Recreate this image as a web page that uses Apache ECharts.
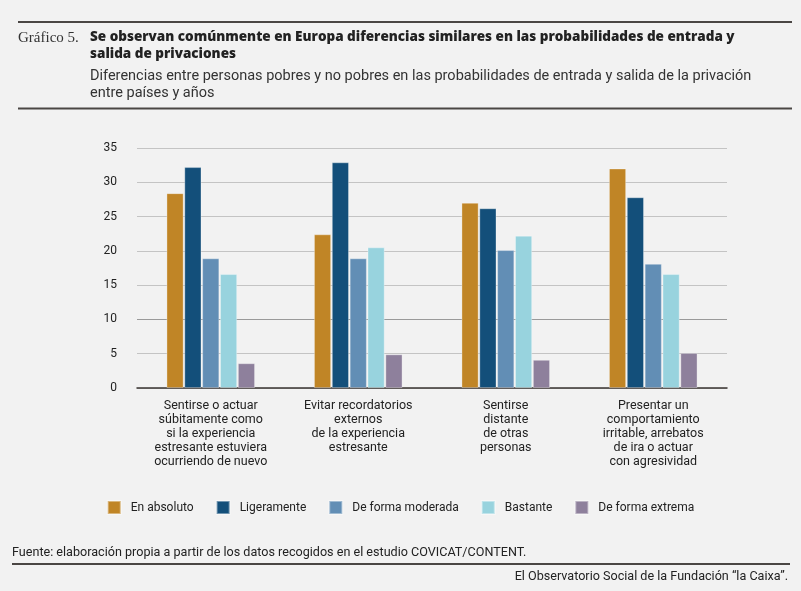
<!DOCTYPE html>
<html>
<head>
<meta charset="utf-8">
<script src="https://cdn.jsdelivr.net/npm/echarts@6/dist/echarts.min.js"></script>
<style>
  html, body { margin: 0; padding: 0; background: #f2f2f2; }
  #main { width: 801px; height: 591px; }
</style>
</head>
<body>
<div id="main"></div>
<script type="text/javascript">
    // datos
    var categorias = [
        'Sentirse o actuar\nsúbitamente como\nsi la experiencia\nestresante estuviera\nocurriendo de nuevo',
        'Evitar recordatorios\nexternos\nde la experiencia\nestresante',
        'Sentirse\ndistante\nde otras\npersonas',
        'Presentar un\ncomportamiento\nirritable, arrebatos\nde ira o actuar\ncon agresividad'
    ];
    var nombresSeries = ['En absoluto', 'Ligeramente', 'De forma moderada', 'Bastante', 'De forma extrema'];
    var enAbsoluto = [28.4, 22.4, 27.0, 32.0];
    var ligeramente = [32.2, 32.9, 26.2, 27.8];
    var moderada = [18.9, 18.9, 20.1, 18.1];
    var bastante = [16.6, 20.5, 22.2, 16.6];
    var extrema = [3.6, 4.9, 4.1, 5.1];
    var colores = ['#c08526', '#134f7a', '#628eb5', '#98d3de', '#8e809c'];
    var coloresLeyenda = ['#c08526', '#134f7a', '#628eb5', '#98d3de', '#6f6e8e'];

    var valores = [enAbsoluto, ligeramente, moderada, bastante, extrema];
    var fuente = 'Roboto, "Noto Sans", sans-serif';

    var myChart = echarts.init(document.getElementById('main'));

    var series = [];
    for (var i = 0; i < nombresSeries.length; i++) {
        series.push({
            name: nombresSeries[i],
            type: 'bar',
            barWidth: 17,
            barGap: '5%',
            itemStyle: {
                color: colores[i],
                borderColor: 'rgba(255,255,255,0.4)',
                borderWidth: 0.8
            },
            data: valores[i]
        });
    }

    var option = {
        animation: false,
        backgroundColor: '#f2f2f2',
        color: coloresLeyenda,
        title: [
            {
                text: 'Gráfico 5.',
                left: 18, top: 29, padding: 0,
                textStyle: { fontFamily: '"Liberation Serif", serif', fontSize: 15, fontWeight: 'normal', color: '#333', lineHeight: 18 }
            },
            {
                text: 'Se observan comúnmente en Europa diferencias similares en las probabilidades de entrada y\nsalida de privaciones',
                left: 90, top: 29, padding: 0,
                textStyle: { fontFamily: '"Open Sans", sans-serif', fontSize: 13.5, fontWeight: 800, color: '#222', lineHeight: 17 }
            },
            {
                text: 'Diferencias entre personas pobres y no pobres en las probabilidades de entrada y salida de la privación\nentre países y años',
                left: 90, top: 67.5, padding: 0,
                textStyle: { fontFamily: fuente, fontSize: 14.5, fontWeight: 'normal', color: '#333', lineHeight: 17 }
            },
            {
                text: 'Fuente: elaboración propia a partir de los datos recogidos en el estudio COVICAT/CONTENT.',
                left: 12, top: 545, padding: 0,
                textStyle: { fontFamily: fuente, fontSize: 12.6, fontWeight: 'normal', color: '#222', lineHeight: 16 }
            },
            {
                text: 'El Observatorio Social de la Fundación “la Caixa”.',
                right: 13, top: 569, padding: 0,
                textStyle: { fontFamily: fuente, fontSize: 12.6, fontWeight: 'normal', color: '#222', lineHeight: 16 }
            }
        ],
        graphic: [
            { type: 'line', shape: { x1: 18, y1: 22, x2: 792, y2: 22 }, style: { stroke: '#4a4644', lineWidth: 2 } },
            { type: 'line', shape: { x1: 18, y1: 108.5, x2: 792, y2: 108.5 }, style: { stroke: '#4a4644', lineWidth: 2 } },
            { type: 'line', shape: { x1: 12, y1: 564, x2: 790, y2: 564 }, style: { stroke: '#4a4644', lineWidth: 2 } }
        ],
        legend: {
            left: 'center',
            top: 495,
            itemWidth: 13,
            itemHeight: 13,
            itemGap: 22,
            icon: 'rect',
            textStyle: { fontFamily: fuente, fontSize: 12, color: '#222', padding: [0, 0, 0, 5] },
            data: nombresSeries
        },
        grid: { left: 137, right: 74, top: 148, bottom: 203, containLabel: false },
        xAxis: {
            type: 'category',
            data: categorias,
            axisTick: { show: false },
            axisLine: { lineStyle: { color: '#3a3532', width: 1.5 } },
            axisLabel: {
                interval: 0,
                margin: 11,
                fontFamily: fuente,
                fontSize: 12.5,
                lineHeight: 14,
                color: '#222'
            }
        },
        yAxis: {
            type: 'value',
            min: 0,
            max: 35,
            interval: 5,
            axisLine: { show: false },
            axisTick: { show: false },
            axisLabel: { margin: 20, fontFamily: fuente, fontSize: 12, color: '#222' },
            splitLine: {
                lineStyle: {
                    color: ['#c4c4c4', '#c4c4c4', '#9a9a9a', '#c4c4c4', '#c4c4c4', '#c4c4c4', '#c4c4c4', '#c4c4c4'],
                    width: 1
                }
            }
        },
        series: series
    };

    myChart.setOption(option);
</script>
</body>
</html>
